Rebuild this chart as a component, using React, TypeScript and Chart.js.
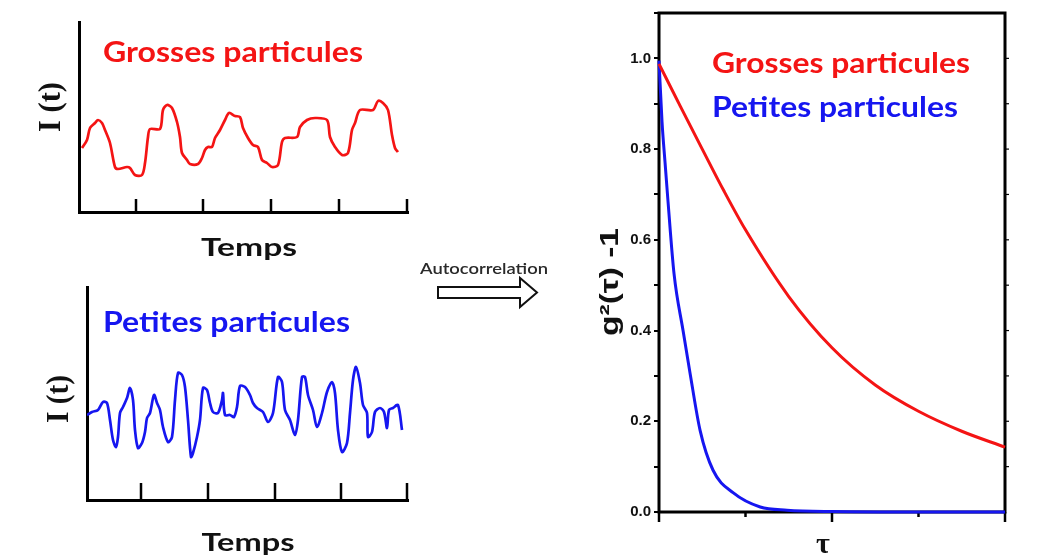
import React, { useEffect, useRef } from "react";
import { Chart, registerables } from "chart.js";

Chart.register(...registerables);

// ---------- Top-left: intensity trace, large particles ----------
const bigTime = [3, 8, 11, 16, 19, 23, 26, 31, 36, 39, 48, 51, 56, 63, 66, 69, 71, 81, 84, 88, 93, 98, 101, 103, 108, 111, 119, 123, 126, 129, 133, 136, 141, 146, 150, 156, 161, 164, 169, 174, 179, 183, 188, 193, 199, 203, 206, 218, 221, 228, 236, 248, 251, 256, 263, 269, 273, 276, 281, 294, 299, 304, 309, 313, 316, 319];
const bigIntensity = [64, 72, 84, 89, 92, 89, 82, 69, 45, 43, 45, 44, 37, 37, 49, 75, 83, 83, 102, 107, 104, 90, 75, 59, 52, 48, 48, 54, 62, 65, 65, 74, 82, 92, 99, 96, 95, 84, 74, 67, 65, 52, 49, 45, 47, 70, 74, 75, 85, 92, 94, 92, 75, 65, 57, 59, 82, 89, 102, 102, 111, 109, 102, 77, 64, 60];
const topTimeTicks = [57, 124, 192, 260, 328];

// ---------- Bottom-left: intensity trace, small particles ----------
const smallTime = [0, 5, 11, 16, 20, 23, 26, 29, 31, 33, 36, 40, 43, 46, 48, 51, 55, 58, 60, 63, 67, 70, 73, 76, 81, 85, 88, 91, 95, 98, 101, 104, 106, 110, 113, 116, 120, 123, 126, 131, 135, 136, 138, 143, 147, 150, 153, 158, 163, 166, 170, 176, 181, 186, 191, 195, 198, 203, 208, 211, 215, 218, 221, 226, 230, 235, 240, 245, 248, 251, 255, 260, 263, 266, 269, 273, 276, 280, 281, 285, 288, 293, 297, 300, 302, 306, 311, 315];
const smallIntensity = [85, 88, 90, 98, 97, 80, 60, 53, 63, 87, 93, 102, 112, 100, 70, 52, 57, 68, 82, 87, 105, 97, 90, 73, 58, 63, 100, 127, 125, 113, 80, 43, 47, 63, 80, 112, 110, 97, 88, 87, 100, 107, 85, 85, 83, 93, 114, 113, 105, 97, 92, 88, 78, 87, 123, 118, 90, 80, 65, 80, 123, 123, 105, 90, 73, 87, 108, 118, 107, 70, 48, 57, 87, 120, 133, 117, 95, 87, 63, 68, 88, 92, 88, 72, 90, 92, 95, 70];
const bottomTimeTicks = [54, 121, 188, 254, 320];

// ---------- Right: autocorrelation functions ----------
const tauLarge = [0, 0.25, 0.5, 0.75, 1, 1.5, 2, 2.5, 3, 3.5, 4];
const g2Large = [0.988, 0.893, 0.8, 0.708, 0.622, 0.475, 0.362, 0.28, 0.222, 0.178, 0.143];
const tauSmall = [0, 0.035, 0.07, 0.104, 0.174, 0.278, 0.36, 0.475, 0.625, 0.86, 1.17, 1.48, 2, 3, 4];
const g2Small = [0.995, 0.86, 0.77, 0.685, 0.525, 0.4, 0.305, 0.18, 0.092, 0.042, 0.011, 0.004, 0.001, 0, 0];
const tauMajorTicks = [0, 2, 4];
const tauMinorTicks = [1, 3];
const g2RightTicks = [0.1, 0.2, 0.3, 0.4, 0.5, 0.6, 0.7, 0.8, 0.9, 1.0];

const RED = "#f41414";
const BLUE = "#1616f0";
const SANS = "Lato, 'Open Sans', sans-serif";

type TextItem = {
  text: string;
  x: number;
  y: number;
  font: string;
  color: string;
  align?: CanvasTextAlign;
  baseline?: CanvasTextBaseline;
  width?: number;
  rotate?: boolean;
};

function drawTexts(ctx: CanvasRenderingContext2D, items: TextItem[]) {
  for (const it of items) {
    ctx.save();
    ctx.font = it.font;
    ctx.fillStyle = it.color;
    ctx.textAlign = it.align || "left";
    ctx.textBaseline = it.baseline || "alphabetic";
    ctx.translate(it.x, it.y);
    if (it.rotate) ctx.rotate(-Math.PI / 2);
    if (it.width) {
      const w = ctx.measureText(it.text).width;
      if (w > 0) ctx.scale(it.width / w, 1);
    }
    ctx.fillText(it.text, 0, 0);
    ctx.restore();
  }
}

function textPlugin(id: string, items: TextItem[]) {
  return {
    id,
    afterDraw(chart: any) {
      drawTexts(chart.ctx, items);
    },
  };
}

function innerTicksPlugin(ticks: number[], len: number) {
  return {
    id: "innerTicks",
    afterDraw(chart: any) {
      const { ctx, chartArea, scales } = chart;
      ctx.save();
      ctx.strokeStyle = "#000";
      ctx.lineWidth = 2.5;
      for (const t of ticks) {
        const x = scales.x.getPixelForValue(t);
        ctx.beginPath();
        ctx.moveTo(x, chartArea.bottom);
        ctx.lineTo(x, chartArea.bottom - len);
        ctx.stroke();
      }
      ctx.restore();
    },
  };
}

const framePlugin = {
  id: "frame",
  beforeDatasetsDraw(chart: any) {
    const { ctx, chartArea, scales } = chart;
    ctx.save();
    ctx.strokeStyle = "#000";
    ctx.lineWidth = 3;
    ctx.strokeRect(chartArea.left, chartArea.top, chartArea.right - chartArea.left, chartArea.bottom - chartArea.top);
    ctx.lineWidth = 2.5;
    for (const t of tauMajorTicks) {
      const x = scales.x.getPixelForValue(t);
      ctx.beginPath();
      ctx.moveTo(x, chartArea.bottom);
      ctx.lineTo(x, chartArea.bottom + 10);
      ctx.stroke();
    }
    for (const t of tauMinorTicks) {
      const x = scales.x.getPixelForValue(t);
      ctx.beginPath();
      ctx.moveTo(x, chartArea.bottom);
      ctx.lineTo(x, chartArea.bottom + 5);
      ctx.stroke();
    }
    ctx.lineWidth = 1.2;
    for (const v of g2RightTicks) {
      const y = scales.y.getPixelForValue(v);
      ctx.beginPath();
      ctx.moveTo(chartArea.right, y);
      ctx.lineTo(chartArea.right + 4, y);
      ctx.stroke();
    }
    ctx.restore();
  },
};

function traceConfig(
  xs: number[],
  ys: number[],
  color: string,
  xMax: number,
  yMax: number,
  padTop: number,
  padRight: number,
  yWidth: number,
  xHeight: number,
  plugins: any[]
) {
  return {
    type: "line" as const,
    data: {
      datasets: [
        {
          data: xs.map((x, i) => ({ x, y: ys[i] })),
          borderColor: color,
          borderWidth: 2.7,
          pointRadius: 0,
          tension: 0.3,
          fill: false,
        },
      ],
    },
    options: {
      animation: false,
      responsive: false,
      maintainAspectRatio: false,
      layout: { padding: { top: padTop, right: padRight, left: 0, bottom: 0 } },
      plugins: { legend: { display: false }, tooltip: { enabled: false }, title: { display: false } },
      scales: {
        x: {
          type: "linear",
          min: 0,
          max: xMax,
          grid: { display: false, drawTicks: false },
          ticks: { display: false },
          border: { display: true, color: "#000", width: 3 },
          afterFit: (s: any) => {
            s.height = xHeight;
          },
        },
        y: {
          type: "linear",
          min: 0,
          max: yMax,
          grid: { display: false, drawTicks: false },
          ticks: { display: false },
          border: { display: true, color: "#000", width: 3 },
          afterFit: (s: any) => {
            s.width = yWidth;
          },
        },
      },
    },
    plugins,
  };
}

export default function App() {
  const topRef = useRef<HTMLCanvasElement>(null);
  const botRef = useRef<HTMLCanvasElement>(null);
  const rightRef = useRef<HTMLCanvasElement>(null);

  useEffect(() => {
    const charts: Chart[] = [];

    const topTexts: TextItem[] = [
      { text: "Grosses particules", x: 103, y: 62, font: `bold 28px ${SANS}`, color: RED, width: 260 },
      { text: "Temps", x: 249, y: 256, font: `bold 25px ${SANS}`, color: "#111", align: "center", width: 96 },
      { text: "I (t)", x: 52, y: 107, font: "bold 31px 'Liberation Serif', serif", color: "#111", align: "center", baseline: "middle", rotate: true, width: 50 },
    ];
    charts.push(
      new Chart(
        topRef.current!,
        traceConfig(bigTime, bigIntensity, RED, 329, 190, 22, 22, 79, 68, [
          innerTicksPlugin(topTimeTicks, 13),
          textPlugin("texts", topTexts),
        ]) as any
      )
    );

    const botTexts: TextItem[] = [
      { text: "Petites particules", x: 103, y: 52, font: `bold 28px ${SANS}`, color: BLUE, width: 247 },
      { text: "Temps", x: 248, y: 271, font: `bold 25px ${SANS}`, color: "#111", align: "center", width: 93 },
      { text: "I (t)", x: 60, y: 119, font: "bold 31px 'Liberation Serif', serif", color: "#111", align: "center", baseline: "middle", rotate: true, width: 48 },
    ];
    charts.push(
      new Chart(
        botRef.current!,
        traceConfig(smallTime, smallIntensity, BLUE, 321, 213, 7, 22, 87, 60, [
          innerTicksPlugin(bottomTimeTicks, 17),
          textPlugin("texts", botTexts),
        ]) as any
      )
    );

    const rightTexts: TextItem[] = [
      { text: "Grosses particules", x: 122, y: 73, font: `bold 28px ${SANS}`, color: RED, width: 258 },
      { text: "Petites particules", x: 122, y: 117, font: `bold 28px ${SANS}`, color: BLUE, width: 246 },
      { text: "g²(τ) -1", x: 21, y: 282, font: "bold 25px 'Liberation Sans', Arial, sans-serif", color: "#111", align: "center", baseline: "middle", rotate: true, width: 108 },
      { text: "τ", x: 233, y: 553, font: "bold 30px 'Liberation Serif', serif", color: "#111", align: "center" },
    ];
    charts.push(
      new Chart(rightRef.current!, {
        type: "line",
        data: {
          datasets: [
            {
              data: tauLarge.map((x, i) => ({ x, y: g2Large[i] })),
              borderColor: RED,
              borderWidth: 3,
              pointRadius: 0,
              cubicInterpolationMode: "monotone",
              fill: false,
              clip: 4,
            },
            {
              data: tauSmall.map((x, i) => ({ x, y: g2Small[i] })),
              borderColor: BLUE,
              borderWidth: 3,
              pointRadius: 0,
              cubicInterpolationMode: "monotone",
              fill: false,
              clip: 4,
            },
          ],
        },
        options: {
          animation: false,
          responsive: false,
          maintainAspectRatio: false,
          layout: { padding: { top: 13, right: 41, left: 0, bottom: 0 } },
          plugins: { legend: { display: false }, tooltip: { enabled: false }, title: { display: false } },
          scales: {
            x: {
              type: "linear",
              min: 0,
              max: 4,
              grid: { display: false, drawTicks: false },
              ticks: { display: false },
              border: { display: false },
              afterFit: (s: any) => {
                s.height = 48;
              },
            },
            y: {
              type: "linear",
              min: 0,
              max: 1.1,
              grid: { display: true, drawOnChartArea: false, drawTicks: true, tickLength: 5, color: "#000", lineWidth: 2 },
              border: { display: false },
              ticks: {
                stepSize: 0.1,
                padding: 3,
                color: "#111",
                font: { family: "'Liberation Sans', Arial, sans-serif", size: 15, weight: "bold" },
                callback: (v: any) => {
                  const k = Math.round(Number(v) * 10);
                  return k % 2 === 0 && k <= 10 ? (k / 10).toFixed(1) : "";
                },
              },
              afterFit: (s: any) => {
                s.width = 69;
              },
            },
          },
        },
        plugins: [framePlugin, textPlugin("texts", rightTexts)],
      } as any)
    );

    return () => charts.forEach((c) => c.destroy());
  }, []);

  return (
    <div style={{ position: "fixed", left: 0, top: 0, width: 1046, height: 560, background: "#fff", overflow: "hidden" }}>
      <canvas ref={topRef} width={430} height={280} style={{ position: "absolute", left: 0, top: 0 }} />
      <canvas ref={botRef} width={430} height={280} style={{ position: "absolute", left: 0, top: 280 }} />
      <canvas ref={rightRef} width={456} height={560} style={{ position: "absolute", left: 590, top: 0 }} />
      <svg width={1046} height={560} style={{ position: "absolute", left: 0, top: 0, pointerEvents: "none" }}>
        <text x={420} y={274} fontFamily="Lato, 'Open Sans', sans-serif" fontSize={15} fontWeight={600} fill="#2a2a2a" textLength={128} lengthAdjust="spacingAndGlyphs">
          Autocorrelation
        </text>
        <polygon
          points="438,287 520,287 520,278 537,292.5 520,307 520,298 438,298"
          fill="#fff"
          stroke="#111"
          strokeWidth={2}
          strokeLinejoin="miter"
        />
      </svg>
    </div>
  );
}
